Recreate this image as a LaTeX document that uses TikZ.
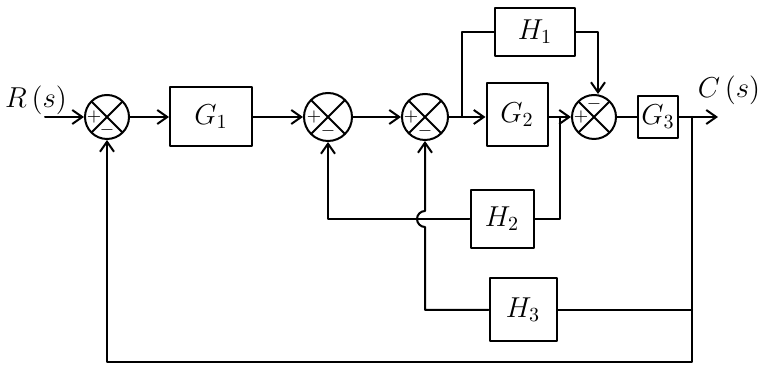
\documentclass[tikz,border=0pt]{standalone}
\usepackage{amsfonts,amsmath,amssymb}
\usepackage{tikz}
\usetikzlibrary{arrows.meta}
\tikzset{
  every picture/.style={font=\Large, line join=round, line cap=round, >={Straight Barb[length=5pt,width=7pt]}},
  block/.style={draw, line width=1pt, inner sep=0pt},
  sumjn/.style={draw, circle, line width=1pt, minimum size=22pt, inner sep=0pt,
    path picture={\draw[line width=1pt] (path picture bounding box.north west)--(path picture bounding box.south east)
      (path picture bounding box.north east)--(path picture bounding box.south west);}},
  sgn/.style={font=\small, inner sep=0pt},
}

\begin{document}
\begin{tikzpicture}[x=0.5pt,y=-0.5pt,line width=1pt]
\useasboundingbox (0,0) rectangle (761,367);
% main path
\coordinate (in) at (45,117);
\coordinate (out) at (718,117);
\node (R) at (36,100) {$R\,(s)$};
\node[inner sep=1pt] (C) at (729,90) {$C\,(s)$};
\node[sumjn] (s1) at (107,117) {};
\node[block, minimum width=41pt, minimum height=29.5pt] (g1) at (211,117) {$G_1$};
\node[sumjn, minimum size=24pt] (s2) at (328,117) {};
\node[sumjn, minimum size=23pt] (s3) at (425,117) {};
\node[block, minimum width=30.5pt, minimum height=31.5pt] (g2) at (517,115) {$G_2$};
\node[sumjn] (s4) at (594,117) {};
\node[block, minimum width=20pt, minimum height=21pt] (g3) at (658,117) {$G_3$};
% feedback blocks
\node[block, minimum width=40pt, minimum height=24pt] (h1) at (535,32) {$H_1$};
\node[block, minimum width=31.5pt, minimum height=29pt] (h2) at (502,219) {$H_2$};
\node[block, minimum width=33.5pt, minimum height=31.5pt] (h3) at (523,310) {$H_3$};
% signs
\node[sgn] at ([xshift=-6.5pt]s1.center) {$+$};
\node[sgn] at ([yshift=-6.5pt]s1.center) {$-$};
\node[sgn] at ([xshift=-7pt]s2.center) {$+$};
\node[sgn] at ([yshift=-7pt]s2.center) {$-$};
\node[sgn] at ([xshift=-7pt]s3.center) {$+$};
\node[sgn] at ([yshift=-7pt]s3.center) {$-$};
\node[sgn] at ([yshift=6.5pt]s4.center) {$-$};
\node[sgn] at ([xshift=-6.5pt]s4.center) {$+$};
% branch points
\coordinate (b1) at (462,117);
\coordinate (b2) at (560,117);
\coordinate (b3) at (692,117);
\coordinate (bot) at (692,362);
\coordinate (hop) at (s3.south |- h2.west);
% forward connections
\draw[->] (in) -- (s1);
\draw[->] (s1) -- (g1.west |- s1);
\draw[->] (g1.east |- s2) -- (s2);
\draw[->] (s2) -- (s3);
\draw[->] (s3) -- (g2.west |- s3);
\draw[->] (g2.east |- s4) -- (s4);
\draw (s4) -- (g3);
\draw[->] (g3) -- (out);
% feedback connections
\draw (b1) |- (h1.west);
\draw[->] (h1.east) -| ([xshift=2pt]s4.north);
\draw (b2) |- (h2.east);
\draw[->] (h2.west) -| (s2.south);
\draw[->] (h3.west) -| ([yshift=-4pt]hop) arc[start angle=270, end angle=90, radius=4pt] -- (s3.south);
\draw (h3.east) -- (h3.east -| b3);
\draw[->] (b3) -- (bot) -| (s1.south);
\end{tikzpicture}
\end{document}
